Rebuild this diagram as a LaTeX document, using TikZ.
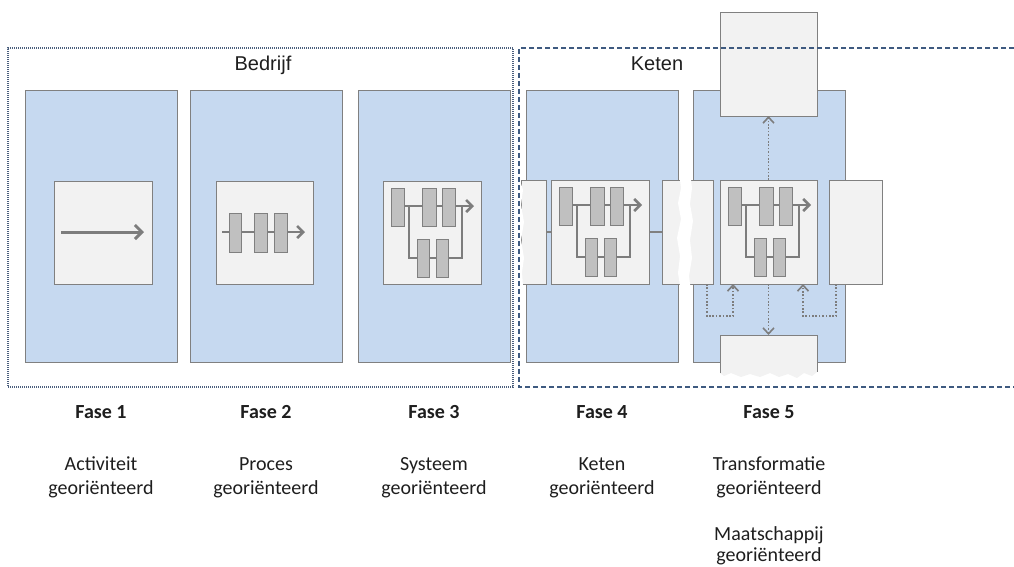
\documentclass[tikz,border=0pt]{standalone}
\usepackage{fontspec}
\setmainfont{Carlito}
\newfontfamily\headfont{Liberation Sans}
\usetikzlibrary{arrows.meta,calc}

\definecolor{panelblue}{RGB}{198,217,240}
\definecolor{edgegray}{RGB}{128,128,128}
\definecolor{boxgray}{RGB}{242,242,242}
\definecolor{blockgray}{RGB}{192,192,192}
\definecolor{flowgray}{RGB}{125,125,125}
\definecolor{frameblue}{RGB}{62,90,128}
\definecolor{dotframe}{RGB}{75,95,125}
\definecolor{textdark}{RGB}{30,30,30}

\tikzset{
  panel/.style={draw=edgegray, fill=panelblue, line width=0.9pt, inner sep=0pt,
    outer sep=0pt, anchor=north west, minimum width=152pt, minimum height=272pt},
  stagebox/.style={draw=edgegray, fill=boxgray, line width=0.9pt, inner sep=0pt,
    outer sep=0pt, anchor=north west},
  block/.style={draw=edgegray, fill=blockgray, line width=0.8pt},
  flowbig/.style={draw=flowgray, line width=3pt, -{Straight Barb[length=7pt,width=14pt]}},
  flowsmall/.style={draw=flowgray, line width=2.6pt, -{Straight Barb[length=6pt,width=12pt]}},
  branch/.style={draw=flowgray, line width=2.4pt, line join=miter},
  link/.style={draw=edgegray, line width=1.4pt},
  dotflow/.style={draw=flowgray, line width=1.8pt, dash pattern=on 1.6pt off 1.8pt,
    -{Straight Barb[length=6pt,width=11pt,line width=1.6pt]}},
  groupname/.style={font=\headfont\fontsize{20}{24}\selectfont, text=textdark, inner sep=0pt},
  phasename/.style={font=\bfseries\fontsize{20}{24}\selectfont, text=textdark,
    inner sep=0pt, anchor=base},
  phasetext/.style={font=\fontsize{20}{24}\selectfont, text=textdark,
    inner sep=0pt, anchor=base},
  % single activity: one arrow
  activityicon/.pic={
    \draw[flowbig] (7,51) -- (90,51);
  },
  % process: chain of three steps on one arrow
  processicon/.pic={
    \draw[flowsmall] (6,51) -- (89,51);
    \foreach \a/\b in {13/25,38/51,58/71} \draw[block] (\a,32) rectangle (\b,71);
  },
  % system: main chain with a parallel branch
  systemicon/.pic={
    \draw[branch] (26,25) -- (26,77) -- (79,77) -- (79,25);
    \draw[flowsmall] (21,25) -- (91,25);
    \foreach \a/\b in {8/21,39/53,59/72} \draw[block] (\a,7) rectangle (\b,45);
    \foreach \a/\b in {34/46,53/65} \draw[block] (\a,58) rectangle (\b,96);
  },
}

\begin{document}
\begin{tikzpicture}[x=1pt,y=-1pt]
\useasboundingbox (0,0) rectangle (1014,566);

% phase panels
\node[panel] (p1) at (25,90) {};
\node[panel] (p2) at (190,90) {};
\node[panel] (p3) at (358,90) {};
\node[panel] (p4) at (526,90) {};
\node[panel] (p5) at (693,90) {};

% surrounding context boxes of the chain and transformation phases
\node[stagebox, minimum width=97pt, minimum height=104pt] (t5) at (720,12) {};
\node[stagebox, minimum width=53pt, minimum height=104pt] (r5) at (829,180) {};
\node[stagebox, minimum width=25pt, minimum height=104pt] (l4) at (521,180) {};
\node[stagebox, minimum width=51pt, minimum height=104pt] (m45) at (662,180) {};

% torn-off box below the transformation phase
\node[inner sep=0pt, outer sep=0pt, anchor=north west, minimum width=97pt,
  minimum height=38pt] (b5) at (720,335) {};
\fill[boxgray] (720,335) -- (817,335) -- (817,372) -- (812,376) -- (804,373)
  -- (797,378) -- (788,374) -- (779,377) -- (770,373) -- (760,377) -- (750,374)
  -- (741,377) -- (731,373) -- (724,376) -- (720,373) -- cycle;
\draw[edgegray, line width=0.9pt] (720,373) -- (720,335) -- (817,335) -- (817,372);

% tear through the box between the chain and transformation phases
\fill[white] (679,172) -- (681,188) -- (678,203) -- (681,219) -- (677,238)
  -- (680,256) -- (678,273) -- (681,292) -- (691,292) -- (689,276) -- (692,258)
  -- (690,240) -- (693,221) -- (690,204) -- (692,188) -- (690,172) -- cycle;
% ragged left edge of the leftmost chain box
\fill[white] (519,178) -- (523,190) -- (521,205) -- (524,222) -- (521,240)
  -- (524,258) -- (522,272) -- (523,286) -- (519,286) -- cycle;

% inner process boxes
\node[stagebox, minimum width=98pt, minimum height=103pt] (i1) at (54,181) {};
\node[stagebox, minimum width=97pt, minimum height=103pt] (i2) at (216,181) {};
\node[stagebox, minimum width=98pt, minimum height=103pt] (i3) at (383,181) {};
\node[stagebox, minimum width=98pt, minimum height=104pt] (i4) at (551,180) {};
\node[stagebox, minimum width=97pt, minimum height=104pt] (i5) at (720,180) {};

\pic at (i1.north west) {activityicon};
\pic at (i2.north west) {processicon};
\pic at (i3.north west) {systemicon};
\pic at (i4.north west) {systemicon};
\pic at (i5.north west) {systemicon};

% chain links
\draw[link] (l4.east) -- (i4.west);
\draw[link] (i4.east) -- (m45.west);

% feedback and transformation flows
\draw[dotflow] (i5.north) -- (t5.south);
\draw[dotflow] (i5.south) -- (b5.north);
\draw[dotflow] ([xshift=-6pt]m45.south east) -- ++(0,32) -| ([xshift=13pt]i5.south west);
\draw[dotflow] ([xshift=7pt]r5.south west) -- ++(0,32) -| ([xshift=-14pt]i5.south east);

% group frames
\node[draw=dotframe, line width=1.3pt, dash pattern=on 1pt off 1pt, inner sep=0pt,
  outer sep=0pt, anchor=north west, minimum width=505pt, minimum height=339pt]
  (fb) at (8,48) {};
\coordinate (kt) at (1014,48);
\coordinate (kb) at (1014,387);
\draw[frameblue, line width=1.4pt, dash pattern=on 5pt off 3pt]
  (kt) -- (519,48) -- (519,387) -- (kb);

\node[groupname] (gb) at (263,65) {Bedrijf};
\node[groupname] (gk) at (657,64) {Keten};

% phase captions
\node[phasename] (f1) at (101,418) {Fase 1};
\node[phasename] (f2) at (266,418) {Fase 2};
\node[phasename] (f3) at (434,418) {Fase 3};
\node[phasename] (f4) at (602,418) {Fase 4};
\node[phasename] (f5) at (769,418) {Fase 5};

\node[phasetext] (a1) at (101,470) {Activiteit};
\node[phasetext] (b1) at (101,494) {georiënteerd};
\node[phasetext] (a2) at (266,470) {Proces};
\node[phasetext] (b2) at (266,494) {georiënteerd};
\node[phasetext] (a3) at (434,470) {Systeem};
\node[phasetext] (b3) at (434,494) {georiënteerd};
\node[phasetext] (a4) at (602,470) {Keten};
\node[phasetext] (b4) at (602,494) {georiënteerd};
\node[phasetext] (a5) at (769,470) {Transformatie};
\node[phasetext] (b5t) at (769,494) {georiënteerd};
\node[phasetext] (c5) at (769,540) {Maatschappij};
\node[phasetext] (d5) at (769,561) {georiënteerd};
\end{tikzpicture}
\end{document}
